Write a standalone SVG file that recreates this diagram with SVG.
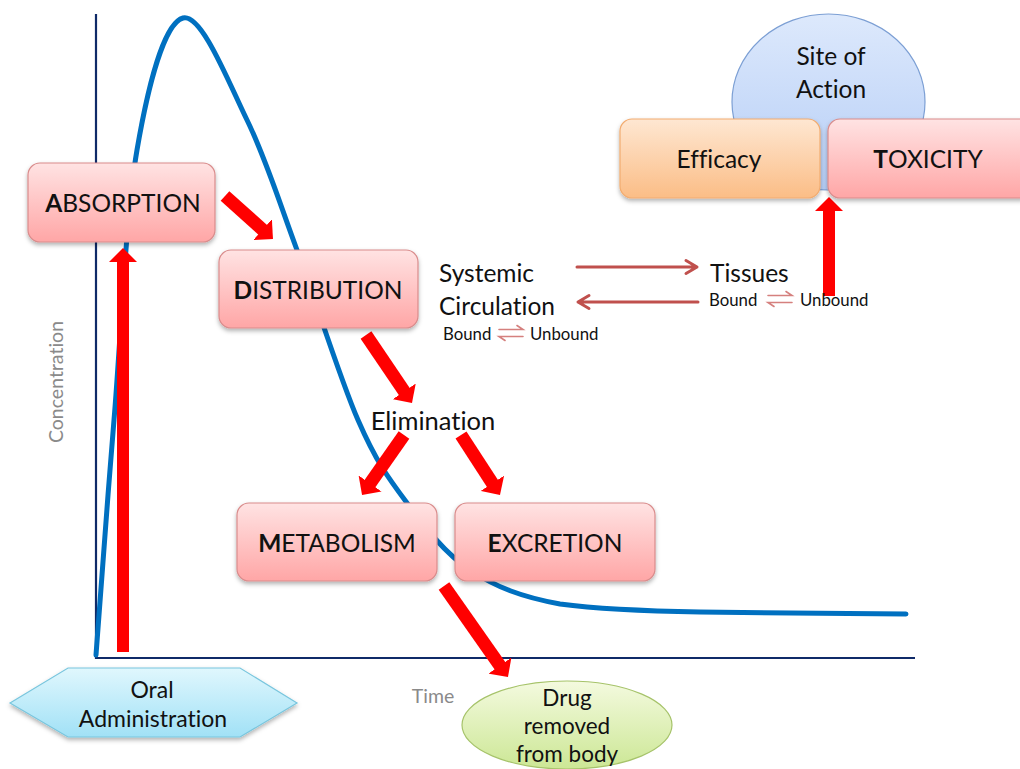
<svg xmlns="http://www.w3.org/2000/svg" width="1020" height="769" viewBox="0 0 1020 769">
  <defs>
    <style>
      text { font-family: Lato, "Liberation Sans", sans-serif; fill: #111; font-variant-ligatures: none; font-feature-settings: "liga" 0, "clig" 0; }
      .lbl { font-size: 24.5px; text-anchor: middle; dominant-baseline: central; }
      .sm { font-size: 16.8px; dominant-baseline: central; }
      .axis-lbl { font-size: 19.5px; fill: #8a8a8a; text-anchor: middle; dominant-baseline: central; }
      .pink { fill: url(#gPink); stroke: #d98c8c; stroke-width: 1.2; filter: url(#shadow); }
      .thick { stroke: #ff0000; fill: none; stroke-linecap: butt; marker-end: url(#bigHead); }
      .thin { stroke: #c0504d; stroke-width: 3; fill: none; stroke-linecap: round; stroke-linejoin: round; }
      .eq { stroke: #d5807e; stroke-width: 1.6; fill: none; stroke-linecap: round; }
    </style>
    <linearGradient id="gPink" x1="0" y1="0" x2="0" y2="1">
      <stop offset="0" stop-color="#ffe3e3"/>
      <stop offset="1" stop-color="#ffa6a6"/>
    </linearGradient>
    <linearGradient id="gOrange" x1="0" y1="0" x2="0" y2="1">
      <stop offset="0" stop-color="#fee7d2"/>
      <stop offset="1" stop-color="#fbbd86"/>
    </linearGradient>
    <linearGradient id="gBlue" x1="0" y1="0" x2="0" y2="1">
      <stop offset="0" stop-color="#dde9fc"/>
      <stop offset="1" stop-color="#b5cdf6"/>
    </linearGradient>
    <linearGradient id="gCyan" x1="0" y1="0" x2="0" y2="1">
      <stop offset="0" stop-color="#e0f7fd"/>
      <stop offset="1" stop-color="#a1e1f6"/>
    </linearGradient>
    <linearGradient id="gGreen" x1="0" y1="0" x2="0" y2="1">
      <stop offset="0" stop-color="#f4fadf"/>
      <stop offset="1" stop-color="#cce795"/>
    </linearGradient>
    <filter id="shadow" x="-10%" y="-10%" width="120%" height="130%">
      <feDropShadow dx="0" dy="2.5" stdDeviation="2" flood-color="#000" flood-opacity="0.3"/>
    </filter>
    <marker id="bigHead" markerUnits="userSpaceOnUse" markerWidth="15" markerHeight="28" viewBox="0 0 15 28" refX="1" refY="14" orient="auto">
      <path d="M0,0 L14,14 L0,28 Z" fill="#ff0000"/>
    </marker>
  </defs>

  <!-- concentration-time axes -->
  <g id="axes">
    <path d="M96,14 V658 H915" fill="none" stroke="#0f2a68" stroke-width="2.2"/>
    <text class="axis-lbl" transform="translate(55,382) rotate(-90)">Concentration</text>
    <text class="axis-lbl" x="433" y="695">Time</text>
  </g>

  <!-- plasma concentration curve -->
  <path id="curve" fill="none" stroke="#0070c0" stroke-width="5" stroke-linecap="round"
        d="M96,655 C99,616 107,504 114,420 C121,336 125.5,217 137,150 C148.5,83 164.7,23 183,18 C201.3,13 228,81 247,120 C266,159 278.5,200 297,250 C315.5,300 339.7,378 358,420 C376.3,462 388.3,478 407,503 C425.7,528 444.5,553 470,570 C495.5,587 521.7,597 560,604 C598,609 642,611 700,612 C758,613 872,613.5 906,614"/>

  <!-- thick process arrows -->
  <g id="connectors">
    <line class="thick" stroke-width="12" x1="123" y1="652" x2="123" y2="261"/>
    <line class="thick" stroke-width="13" x1="225" y1="196" x2="263.3" y2="230.3"/>
    <line class="thick" stroke-width="13" x1="366" y1="335" x2="404.7" y2="392.2"/>
    <line class="thick" stroke-width="13" x1="404" y1="435" x2="369.5" y2="484.3"/>
    <line class="thick" stroke-width="13" x1="461" y1="435" x2="492.9" y2="484.1"/>
    <line class="thick" stroke-width="13" x1="444" y1="586" x2="500.5" y2="666.4"/>
    <line class="thick" stroke-width="12" x1="829" y1="296" x2="829" y2="210"/>
    <!-- systemic circulation <-> tissues -->
    <path class="thin" d="M577,267 H697 M686,260.5 L697,267 L686,273.5"/>
    <path class="thin" d="M698,302 H578 M589,295.5 L578,302 L589,308.5"/>
  </g>

  <g id="site-of-action">
    <ellipse cx="828.5" cy="102" rx="96.5" ry="88" fill="url(#gBlue)" stroke="#7c9fd4" stroke-width="1.2"/>
    <text class="lbl" x="831" y="55">Site of</text>
    <text class="lbl" x="831" y="88">Action</text>
  </g>

  <g id="efficacy">
    <rect x="620" y="119" width="200" height="79" rx="12" fill="url(#gOrange)" stroke="#f2ac70" stroke-width="1.2" filter="url(#shadow)"/>
    <text class="lbl" x="719" y="158">Efficacy</text>
  </g>

  <g id="toxicity">
    <rect class="pink" x="828" y="119" width="205" height="79" rx="12"/>
    <text class="lbl" x="928" y="158"><tspan font-weight="bold">T</tspan>OXICITY</text>
  </g>

  <g id="absorption">
    <rect class="pink" x="28" y="163" width="187" height="79" rx="12"/>
    <text class="lbl" x="123" y="202"><tspan font-weight="bold">A</tspan>BSORPTION</text>
  </g>

  <g id="distribution">
    <rect class="pink" x="219" y="250" width="199" height="78" rx="12"/>
    <text class="lbl" x="318" y="289"><tspan font-weight="bold">D</tspan>ISTRIBUTION</text>
  </g>

  <g id="systemic">
    <text class="lbl" x="439" y="272" style="text-anchor:start">Systemic</text>
    <text class="lbl" x="439" y="305" style="text-anchor:start">Circulation</text>
    <text class="sm" x="443" y="333">Bound</text>
    <path class="eq" d="M499,329.5 H523 L517,325.5 M523,336.5 H499 L505,340.5"/>
    <text class="sm" x="530" y="333">Unbound</text>
  </g>

  <g id="tissues">
    <text class="lbl" x="710" y="272" style="text-anchor:start">Tissues</text>
    <text class="sm" x="709" y="299">Bound</text>
    <path class="eq" d="M768,295.5 H792 L786,291.5 M792,302.5 H768 L774,306.5"/>
    <text class="sm" x="800" y="299">Unbound</text>
  </g>

  <g id="elimination">
    <text class="lbl" x="433" y="420" style="font-size:25.5px">Elimination</text>
  </g>

  <g id="metabolism">
    <rect class="pink" x="237" y="503" width="200" height="78" rx="12"/>
    <text class="lbl" x="337" y="542"><tspan font-weight="bold">M</tspan>ETABOLISM</text>
  </g>

  <g id="excretion">
    <rect class="pink" x="455" y="503" width="200" height="78" rx="12"/>
    <text class="lbl" x="555" y="542"><tspan font-weight="bold">E</tspan>XCRETION</text>
  </g>

  <g id="oral-administration">
    <polygon points="10,703 68,668 240,668 297,703 240,737 68,737" fill="url(#gCyan)" stroke="#79c6de" stroke-width="1.2" filter="url(#shadow)"/>
    <text class="lbl" x="152" y="689" style="font-size:23px">Oral</text>
    <text class="lbl" x="153" y="718" style="font-size:23px">Administration</text>
  </g>

  <g id="drug-removed">
    <ellipse cx="567" cy="725" rx="105" ry="44" fill="url(#gGreen)" stroke="#a6c36a" stroke-width="1.2"/>
    <text class="lbl" x="567" y="697" style="font-size:22.5px">Drug</text>
    <text class="lbl" x="567" y="725" style="font-size:22.5px">removed</text>
    <text class="lbl" x="567" y="753" style="font-size:22.5px">from body</text>
  </g>
</svg>
